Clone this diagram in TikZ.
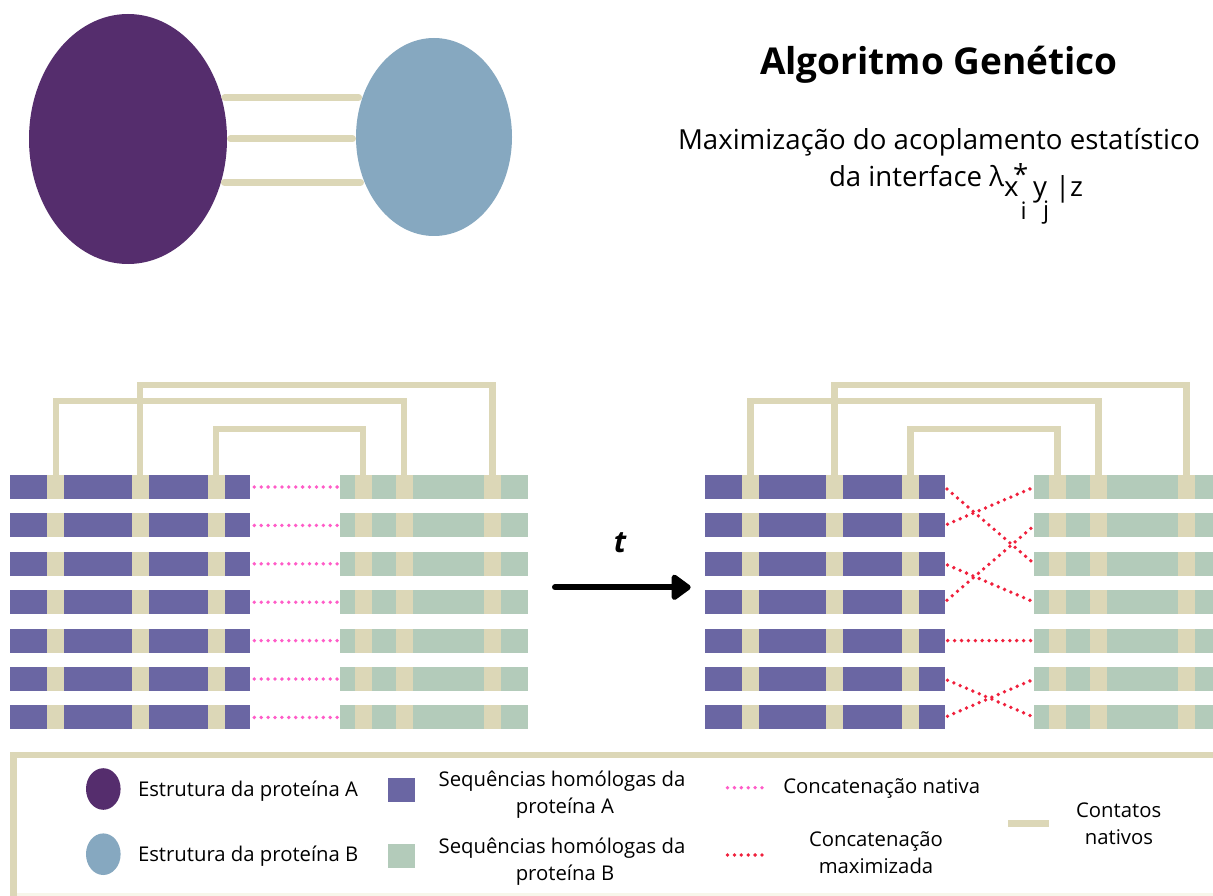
\documentclass[tikz,border=0pt]{standalone}
\usepackage{fontspec}
\setmainfont{Open Sans}
\usetikzlibrary{shapes.geometric,arrows.meta,calc}
\definecolor{protA}{HTML}{552D6D}
\definecolor{protB}{HTML}{86A8C0}
\definecolor{seqA}{HTML}{6A66A3}
\definecolor{seqB}{HTML}{B3CBBA}
\definecolor{beige}{HTML}{DCD7B7}
\definecolor{nativeDot}{HTML}{FF5CC8}
\definecolor{maxDot}{HTML}{F0203C}
\definecolor{cream}{HTML}{F7F6EA}

\newcommand\seqblock[2]{%
  \foreach \i in {1,...,7}{%
    \pgfmathsetmacro\yc{487+(\i-1)*38.4}%
    \node[seqAbar] (#1P\i) at (#2+10.3,\yc) {};
    \node[stripe] (#1P\i-a) at (#2+55.9,\yc) {};
    \node[stripe] (#1P\i-b) at (#2+140.0,\yc) {};
    \node[stripe] (#1P\i-c) at (#2+216.1,\yc) {};
    \node[seqBbar] (#1G\i) at (#2+340,\yc) {};
    \node[stripe] (#1G\i-a) at (#2+363.0,\yc) {};
    \node[stripe] (#1G\i-b) at (#2+404.0,\yc) {};
    \node[stripe] (#1G\i-c) at (#2+492.3,\yc) {};
  }%
  \draw[contact] (#1P1-a.north) -- ++(0,-74) -| (#1G1-b.north);
  \draw[contact] (#1P1-b.north) -- ++(0,-90) -| (#1G1-c.north);
  \draw[contact] (#1P1-c.north) -- ++(0,-46) -| (#1G1-a.north);
}

\begin{document}
\begin{tikzpicture}[x=1pt,y=-1pt,
  box/.style={inner sep=0pt, outer sep=0pt, draw=none},
  seqAbar/.style={box, fill=seqA, minimum width=240pt, minimum height=24pt, anchor=west},
  seqBbar/.style={box, fill=seqB, minimum width=188pt, minimum height=24pt, anchor=west},
  stripe/.style={box, fill=beige, minimum width=17pt, minimum height=24pt},
  contact/.style={draw=beige, line width=6.7pt, line join=miter},
  bond/.style={draw=beige, line width=7pt, line cap=round, shorten <=3.5pt, shorten >=3.5pt},
  dotsN/.style={draw=nativeDot, line width=3.8pt, line cap=round, dash pattern=on 0pt off 6.9pt},
  dotsM/.style={draw=maxDot, line width=3.8pt, line cap=round, dash pattern=on 0pt off 6.9pt},
  blob/.style={ellipse, inner sep=0pt, outer sep=0pt, draw=none},
  txt/.style={inner sep=0pt, outer sep=0pt, font=\fontsize{20.3}{24}\selectfont},
  sub/.style={inner sep=0pt, outer sep=0pt, font=\fontsize{27.6}{32}\selectfont},
]
\fill[white] (0,0) rectangle (1213,896);
\useasboundingbox (0,0) rectangle (1213,896);

% ---- top: proteins and interface
\node[blob, fill=protA, minimum width=198pt, minimum height=250pt] (A) at (128,139) {};
\node[blob, fill=protB, minimum width=156pt, minimum height=198pt] (B) at (434,137) {};
\draw[bond] (A.24) -- (A.24 -| B.152);
\draw[bond] (A.0) -- (A.0 -| B.180);
\draw[bond] (A.335) -- (A.335 -| B.212);

% ---- title
\node[inner sep=0pt, anchor=base, font=\fontsize{37}{44}\selectfont\bfseries] (title) at (939,75) {Algoritmo Genético};
\node[sub, anchor=base] (sub1) at (939,149.3) {Maximização do acoplamento estatístico};
\node[sub, anchor=base west] (sub2) at (829,186.7) {da interface λ};
\node[sub, anchor=base west] (sx) at (1004,196.7) {x};
\node[sub, anchor=base west] (sstar) at (1013,184.5) {*};
\node[inner sep=0pt, anchor=base west, font=\fontsize{24}{28}\selectfont] (si) at (1020.5,220) {i};
\node[sub, anchor=base west] (sy) at (1033,196.7) {y};
\node[inner sep=0pt, anchor=base west, font=\fontsize{24}{28}\selectfont] (sj) at (1043,219) {j};
\node[sub, anchor=base west] (sz) at (1055,196.7) {|z};

% ---- sequence blocks
\seqblock{L}{0}
\seqblock{R}{694.4}

\foreach \i in {1,...,7}
  \draw[dotsN, shorten <=4pt, shorten >=1pt] (LP\i.east) -- (LG\i.west);
\foreach \a/\b in {1/3,2/1,3/4,4/2,5/5,6/7,7/6}
  \draw[dotsM, shorten <=3pt, shorten >=2.5pt] (RP\a.east) -- (RG\b.west);

% ---- arrow t
\coordinate (arrS) at (555,587.3);
\coordinate (arrE) at (690.7,587.3);
\draw[line width=6pt, line cap=round, -{Triangle[length=21pt, width=29pt, round]}] (arrS) -- (arrE);
\node[inner sep=0pt, font=\fontsize{30}{36}\selectfont\bfseries\itshape] (tlab) at (620,543) {t};

% ---- legend
\fill[cream] (16.6,892.5) rectangle (1213,896);
\draw[contact] (13.3,896) -- (13.3,755) -- (1213,755);

\node[blob, fill=protA, minimum width=34.6pt, minimum height=41.6pt] (legA) at (103.3,789) {};
\node[blob, fill=protB, minimum width=34.6pt, minimum height=41.6pt] (legB) at (103.3,854.2) {};
\node[txt, anchor=base west] (legAt) at (138,796.7) {Estrutura da proteína A};
\node[txt, anchor=base west] (legBt) at (138,861.7) {Estrutura da proteína B};

\node[box, fill=seqA, minimum width=27.3pt, minimum height=24.6pt] (legSA) at (401.4,790) {};
\node[box, fill=seqB, minimum width=27.3pt, minimum height=23.7pt] (legSB) at (401.4,855.9) {};
\node[txt, anchor=base] (legSA1) at (562,786.7) {Sequências homólogas da};
\node[txt, anchor=base] (legSA2) at (565,813.3) {proteína A};
\node[txt, anchor=base] (legSB1) at (562,853.3) {Sequências homólogas da};
\node[txt, anchor=base] (legSB2) at (565,880) {proteína B};

\coordinate (lnS) at (727.5,787.7);
\coordinate (lnE) at (765,787.7);
\draw[dotsN] (lnS) -- (lnE);
\node[txt, anchor=base west] (legNt) at (783.3,793.3) {Concatenação nativa};
\coordinate (lmS) at (727.5,855);
\coordinate (lmE) at (765,855);
\draw[dotsM] (lmS) -- (lmE);
\node[txt, anchor=base] (legM1) at (876,846.7) {Concatenação};
\node[txt, anchor=base] (legM2) at (876,873.3) {maximizada};

\coordinate (lcS) at (1008.3,823.3);
\coordinate (lcE) at (1049.3,823.3);
\draw[contact] (lcS) -- (lcE);
\node[txt, anchor=base] (legC1) at (1118.7,817.7) {Contatos};
\node[txt, anchor=base] (legC2) at (1119,844.3) {nativos};
\end{tikzpicture}
\end{document}
